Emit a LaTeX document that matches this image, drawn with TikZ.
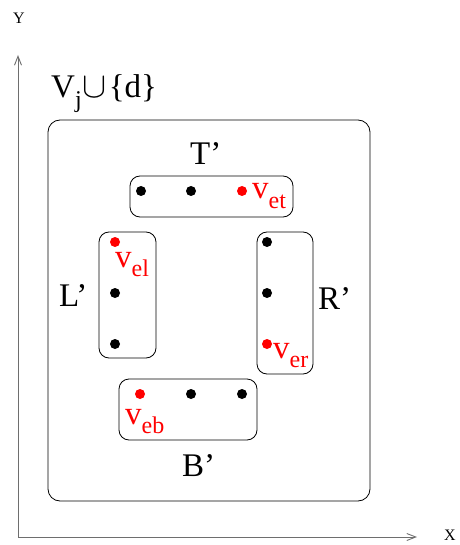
\documentclass[tikz,border=0pt]{standalone}
\usepackage{fontspec}
\setmainfont{Liberation Serif}
\usetikzlibrary{arrows.meta}
\tikzset{>={Straight Barb[length=9pt,width=7pt]}}
\definecolor{Axis}{RGB}{110,110,110}
\definecolor{Mark}{RGB}{255,0,0}
\newcommand{\sub}[1]{\raisebox{-0.28em}{\fontsize{24}{24}\selectfont #1}}

\begin{document}
\begin{tikzpicture}[x=1pt,y=-1pt,
	grp/.style={draw,line width=0.8pt,rounded corners=10pt,inner sep=0pt},
	dot/.style={circle,fill=black,inner sep=0pt,minimum size=10pt},
	rdot/.style={dot,fill=Mark},
	lbl/.style={inner sep=0pt,anchor=base west,font=\fontsize{33}{33}\selectfont},
	rlbl/.style={lbl,text=Mark},
	axlbl/.style={inner sep=0pt,anchor=base west,font=\fontsize{16}{16}\selectfont}]
		\useasboundingbox (0,0) rectangle (459,545);

		% axes
		\coordinate (o) at (18,537);
		\coordinate (xend) at (417,537);
		\coordinate (yend) at (18,55);
		\draw[Axis,line width=0.9pt,->] (o) -- (xend);
		\draw[Axis,line width=0.9pt,->] (o) -- (yend);
		\node[axlbl] (xl) at (444,540) {X};
		\node[axlbl] (yl) at (13,24) {Y};

		% outer set
		\node[grp,rounded corners=12pt,minimum width=322pt,minimum height=381pt] (vset) at (209,310.5) {};
		\node[lbl] (vlbl) at (51,98) {V\sub{j}\kern1pt\scalebox{1.45}{$\cup$}\kern2pt\{d\}};

		% the four groups
		\node[grp,minimum width=163pt,minimum height=41pt] (top) at (211.5,196.5) {};
		\node[grp,minimum width=57pt,minimum height=126pt] (left) at (127.5,295) {};
		\node[grp,minimum width=56pt,minimum height=142pt] (right) at (285,303) {};
		\node[grp,minimum width=138pt,minimum height=61pt] (bottom) at (188,409.5) {};

		\node[lbl] (tl) at (190,165) {T’};
		\node[lbl] (ll) at (59,306) {L’};
		\node[lbl] (rl) at (318,309) {R’};
		\node[lbl] (bl) at (182,476) {B’};

		% top row
		\node[dot] (t1) at (141,191) {};
		\node[dot] (t2) at (191,191) {};
		\node[rdot] (t3) at (242,191) {};
		\node[rlbl] (vet) at (252,199) {v\sub{et}};

		% left column
		\node[rdot] (l1) at (115,242) {};
		\node[dot] (l2) at (115,293) {};
		\node[dot] (l3) at (115,344) {};
		\node[rlbl] (vel) at (115,267) {v\sub{el}};

		% right column
		\node[dot] (r1) at (267,242) {};
		\node[dot] (r2) at (267,293) {};
		\node[rdot] (r3) at (267,344) {};
		\node[rlbl] (ver) at (273,358) {v\sub{er}};

		% bottom row
		\node[rdot] (b1) at (140,394) {};
		\node[dot] (b2) at (191,394) {};
		\node[dot] (b3) at (242,394) {};
		\node[rlbl] (veb) at (125,424) {v\sub{eb}};
\end{tikzpicture}
\end{document}
